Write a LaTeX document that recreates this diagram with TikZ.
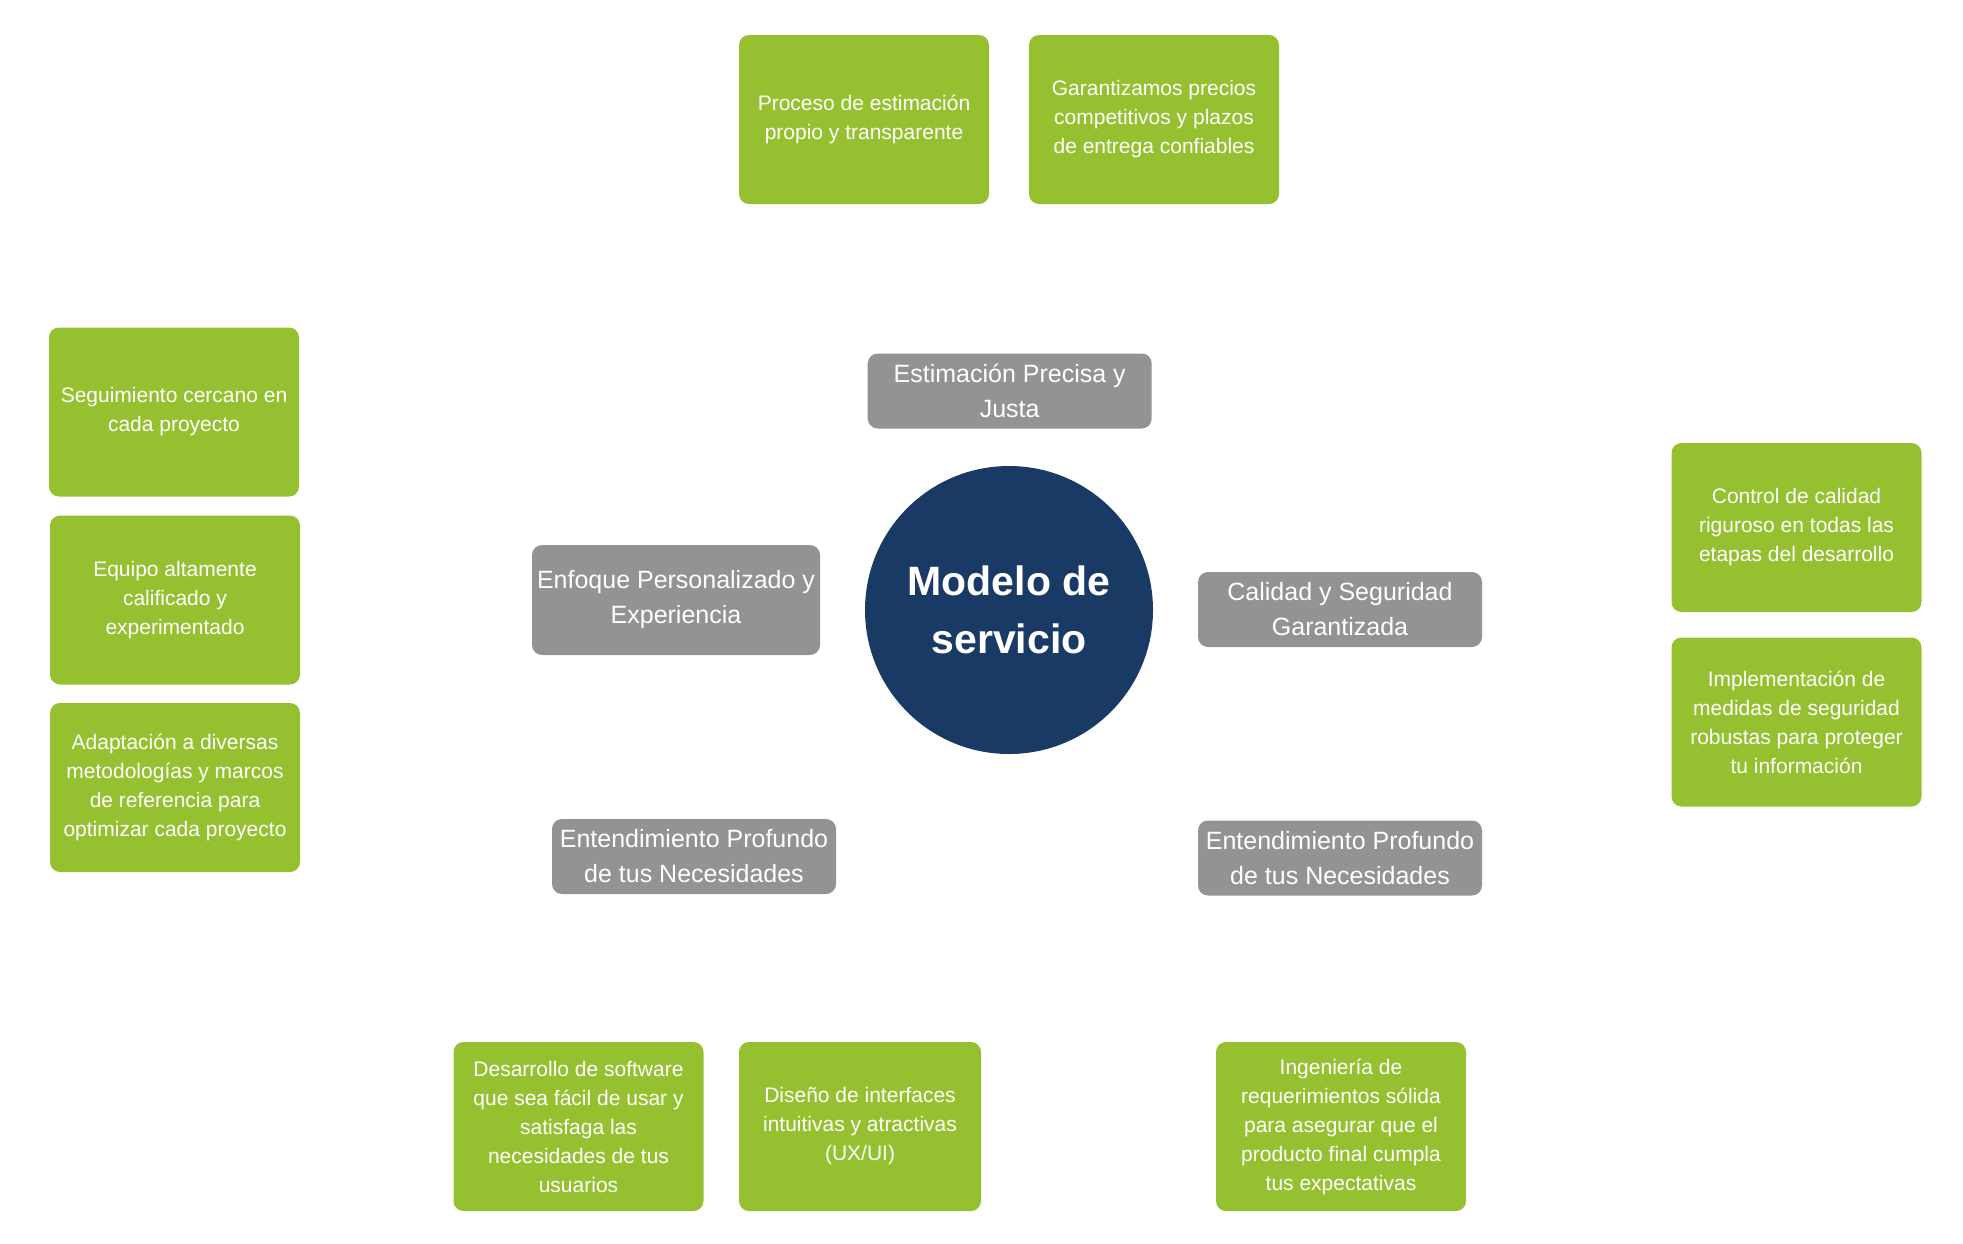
\documentclass[tikz,border=0pt]{standalone}
\usepackage{fontspec}
\setmainfont{Liberation Sans}
\definecolor{leaf}{RGB}{149,193,49}
\definecolor{stone}{RGB}{147,147,147}
\definecolor{navy}{RGB}{26,58,102}
\tikzset{
  greenbox/.style={fill=leaf, rounded corners=5pt, text=white, align=center,
    minimum width=125pt, minimum height=84.5pt, inner sep=2pt,
    font=\fontsize{10.5}{14.5}\selectfont},
  graybox/.style={fill=stone, rounded corners=5pt, text=white, align=center,
    minimum width=142pt, minimum height=37.5pt, inner sep=1pt,
    font=\fontsize{12.5}{17.5}\selectfont},
  hub/.style={circle, fill=navy, text=white, align=center, minimum size=144pt,
    inner sep=0pt, font=\bfseries\fontsize{20.5}{28.8}\selectfont}
}
\begin{document}
\begin{tikzpicture}[x=0.5pt,y=-0.5pt]
\useasboundingbox (0,0) rectangle (1963,1243);
\node[hub] (center) at (1009,610) {Modelo de\\servicio};

\node[graybox] (est) at (1009.7,391) {Estimación Precisa y\\Justa};
\node[graybox, minimum width=144pt, minimum height=55pt] (enf) at (676,600) {Enfoque Personalizado y\\Experiencia};
\node[graybox] (cal) at (1340,609.5) {Calidad y Seguridad\\Garantizada};
\node[graybox] (entL) at (694,856.5) {Entendimiento Profundo\\de tus Necesidades};
\node[graybox] (entR) at (1340,858) {Entendimiento Profundo\\de tus Necesidades};

\node[greenbox] (t1) at (864,119.5) {Proceso de estimación\\propio y transparente};
\node[greenbox] (t2) at (1154,119.5) {Garantizamos precios\\competitivos y plazos\\de entrega confiables};

\node[greenbox] (l1) at (174,412) {Seguimiento cercano en\\cada proyecto};
\node[greenbox] (l2) at (175,600) {Equipo altamente\\calificado y\\experimentado};
\node[greenbox] (l3) at (175,787.5) {Adaptación a diversas\\metodologías y marcos\\de referencia para\\optimizar cada proyecto};

\node[greenbox] (r1) at (1796.5,527.5) {Control de calidad\\riguroso en todas las\\etapas del desarrollo};
\node[greenbox] (r2) at (1796.5,722) {Implementación de\\medidas de seguridad\\robustas para proteger\\tu información};

\node[greenbox] (b1) at (578.5,1126.5) {Desarrollo de software\\que sea fácil de usar y\\satisfaga las\\necesidades de tus\\usuarios};
\node[greenbox, minimum width=121pt] (b2) at (860,1126.5) {Diseño de interfaces\\intuitivas y atractivas\\(UX/UI)};
\node[greenbox] (b3) at (1341,1126.5) {Ingeniería de\\requerimientos sólida\\para asegurar que el\\producto final cumpla\\tus expectativas};
\end{tikzpicture}
\end{document}
